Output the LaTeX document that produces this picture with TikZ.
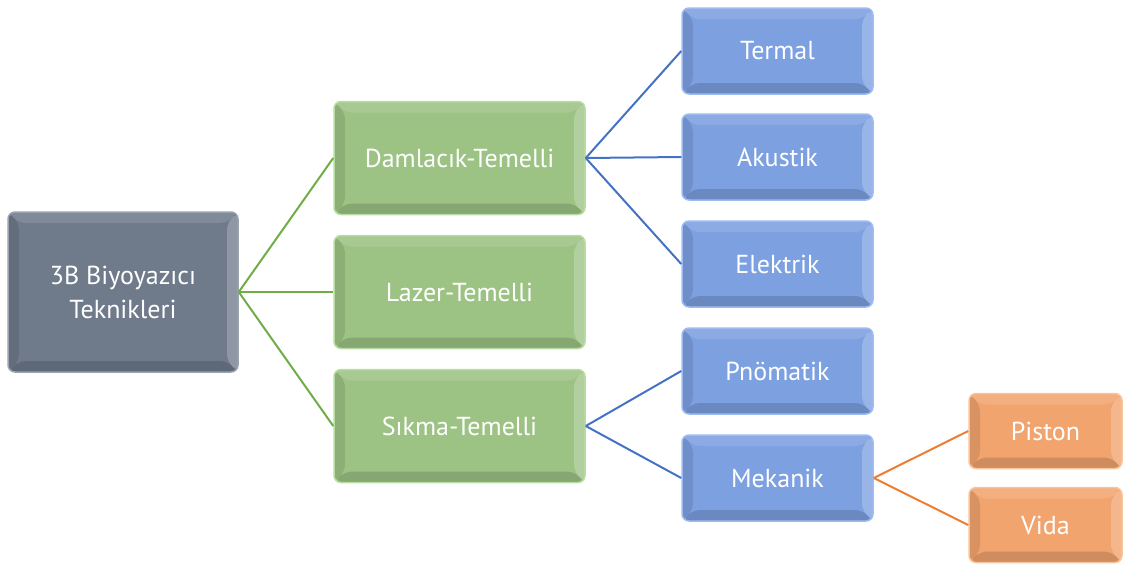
\documentclass[tikz,border=0pt]{standalone}
\usepackage{fontspec}
\setmainfont{PT Sans}
\definecolor{rootface}{HTML}{6F7A8A}
\definecolor{rootedge}{HTML}{9AA3B0}
\definecolor{gface}{HTML}{9DC384}
\definecolor{gedge}{HTML}{B8DDA0}
\definecolor{bface}{HTML}{7DA0E1}
\definecolor{bedge}{HTML}{9DBCF2}
\definecolor{oface}{HTML}{F2A46E}
\definecolor{oedge}{HTML}{F8C49C}
\definecolor{gline}{HTML}{70AD47}
\definecolor{bline}{HTML}{4472C4}
\definecolor{oline}{HTML}{ED7D31}
\begin{document}
\begin{tikzpicture}[x=1pt,y=-1pt,
  box/.style={rounded corners=7pt, inner sep=0pt, align=center, text=white,
    font=\fontsize{26}{34}\selectfont, line width=1.5pt,
    path picture={
      \coordinate (nw) at (path picture bounding box.north west);
      \coordinate (ne) at (path picture bounding box.north east);
      \coordinate (sw) at (path picture bounding box.south west);
      \coordinate (se) at (path picture bounding box.south east);
      \fill[white,opacity=0.12] (nw) -- (ne) -- ([shift={(-11pt,-11pt)}]ne) -- ([shift={(11pt,-11pt)}]nw) -- cycle;
      \fill[white,opacity=0.22] (ne) -- (se) -- ([shift={(-11pt,11pt)}]se) -- ([shift={(-11pt,-11pt)}]ne) -- cycle;
      \fill[black,opacity=0.10] (nw) -- (sw) -- ([shift={(11pt,11pt)}]sw) -- ([shift={(11pt,-11pt)}]nw) -- cycle;
      \fill[black,opacity=0.14] (sw) -- (se) -- ([shift={(-11pt,11pt)}]se) -- ([shift={(11pt,11pt)}]sw) -- cycle;
    }},
  rootbox/.style={box, fill=rootface, draw=rootedge, minimum width=230pt, minimum height=160pt},
  greenbox/.style={box, fill=gface, draw=gedge, minimum width=251pt, minimum height=113pt},
  bluebox/.style={box, fill=bface, draw=bedge, minimum width=191pt, minimum height=86pt},
  orangebox/.style={box, fill=oface, draw=oedge, minimum width=153pt, minimum height=75pt},
  gconn/.style={draw=gline, line width=2pt},
  bconn/.style={draw=bline, line width=2pt},
  oconn/.style={draw=oline, line width=2pt}
]
\useasboundingbox (0,0) rectangle (1124,563);
\node[rootbox] (root) at (123,292) {3B Biyoyazıcı\\Teknikleri};
\node[greenbox] (dam) at (459.5,158) {Damlacık-Temelli};
\node[greenbox] (laz) at (459.5,292) {Lazer-Temelli};
\node[greenbox] (sik) at (459.5,426) {Sıkma-Temelli};
\node[bluebox] (ter) at (777.5,51) {Termal};
\node[bluebox] (aku) at (777.5,157) {Akustik};
\node[bluebox] (ele) at (777.5,264) {Elektrik};
\node[bluebox] (pno) at (777.5,371) {Pnömatik};
\node[bluebox] (mek) at (777.5,478) {Mekanik};
\node[orangebox] (pis) at (1045.5,431) {Piston};
\node[orangebox] (vid) at (1045.5,525) {Vida};
\draw[gconn] (root.east) -- (dam.west);
\draw[gconn] (root.east) -- (laz.west);
\draw[gconn] (root.east) -- (sik.west);
\draw[bconn] (dam.east) -- (ter.west);
\draw[bconn] (dam.east) -- (aku.west);
\draw[bconn] (dam.east) -- (ele.west);
\draw[bconn] (sik.east) -- (pno.west);
\draw[bconn] (sik.east) -- (mek.west);
\draw[oconn] (mek.east) -- (pis.west);
\draw[oconn] (mek.east) -- (vid.west);
\end{tikzpicture}
\end{document}
